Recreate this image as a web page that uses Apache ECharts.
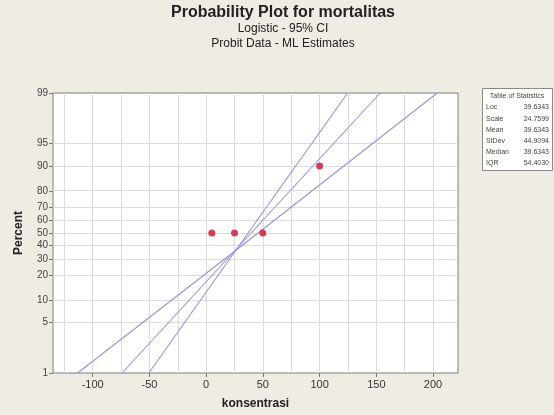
<!DOCTYPE html>
<html><head><meta charset="utf-8">
<script src="https://cdn.jsdelivr.net/npm/echarts@6/dist/echarts.min.js"></script>
<style>html,body{margin:0;padding:0;background:#efece4}#c{width:554px;height:415px}</style>
</head><body><div id="c"></div>
<script>
// ---- data ----
const xTicks = [-100, -50, 0, 50, 100, 150, 200];
const xGrid = [-125, -100, -75, -50, -25, 0, 25, 50, 75, 100, 125, 150, 175, 200];
const pTicks = [1, 5, 10, 20, 30, 40, 50, 60, 70, 80, 90, 95, 99];
const obsX = [5, 25, 50, 100];
const obsP = [50, 50, 50, 90];
const fitX = [-74.1, 153.4];
const fitP = [1, 99];
const lowerX = [-113.3, 26, 124.7];
const lowerP = [1, 36, 99];
const upperX = [-50.5, 26, 203.7];
const upperP = [1, 36, 99];
const statNames = ['Loc', 'Scale', 'Mean', 'StDev', 'Median', 'IQR'];
const statValues = ['39.6343', '24.7599', '39.6343', '44.9094', '39.6343', '54.4030'];

// logistic probability scale
const logit = p => Math.log(p / (100 - p));
const pair = (xs, ps) => xs.map((x, i) => [x, logit(ps[i])]);

const FONT = 'Liberation Sans';
const chart = echarts.init(document.getElementById('c'), null, {renderer: 'canvas'});

const tableX = 482, tableY = 88, tableW = 70, tableH = 82;
const tableTexts = [{
  type: 'text', x: tableX + tableW / 2, y: tableY + 5,
  style: {text: 'Table of Statistics', font: '7px ' + FONT, fill: '#444', textAlign: 'center'}
}];
statNames.forEach((n, i) => {
  tableTexts.push({type: 'text', x: tableX + 4, y: tableY + 16 + i * 11.2,
    style: {text: n, font: '7px ' + FONT, fill: '#444'}});
  tableTexts.push({type: 'text', x: tableX + tableW - 3, y: tableY + 16 + i * 11.2,
    style: {text: statValues[i], font: '7px ' + FONT, fill: '#444', textAlign: 'right'}});
});

chart.setOption({
  animation: false,
  backgroundColor: '#efece4',
  grid: {left: 53, top: 93, right: 96, bottom: 41, show: true, backgroundColor: '#ffffff',
         borderColor: '#7d7d7d', borderWidth: 1},
  xAxis: {
    type: 'value', min: -135, max: 222,
    name: 'konsentrasi', nameLocation: 'middle', nameGap: 25,
    nameTextStyle: {fontFamily: FONT, fontWeight: 'bold', fontSize: 12, color: '#222'},
    axisLine: {show: false, onZero: false}, splitLine: {show: false},
    axisTick: {show: true, length: 4, lineStyle: {color: '#777'}, customValues: xTicks},
    axisLabel: {customValues: xTicks, fontFamily: FONT, fontSize: 11, color: '#333', margin: 6}
  },
  yAxis: {
    type: 'value', min: logit(1), max: logit(99),
    name: 'Percent', nameLocation: 'middle', nameGap: 28, nameRotate: 90,
    nameTextStyle: {fontFamily: FONT, fontWeight: 'bold', fontSize: 12, color: '#222'},
    axisLine: {show: false, onZero: false}, splitLine: {show: false},
    axisTick: {show: true, length: 4, lineStyle: {color: '#777'}, customValues: pTicks.map(logit)},
    axisLabel: {customValues: pTicks.map(logit), fontFamily: FONT, fontSize: 10, color: '#444', margin: 5,
      formatter: v => String(Math.round(100 / (1 + Math.exp(-v))))}
  },
  graphic: [
    {type: 'text', x: 283, y: 5,
     style: {text: 'Probability Plot for mortalitas', font: 'bold 16px ' + FONT, fill: '#222', textAlign: 'center'}},
    {type: 'text', x: 283, y: 23,
     style: {text: 'Logistic - 95% CI', font: '12px ' + FONT, fill: '#222', textAlign: 'center'}},
    {type: 'text', x: 283, y: 38,
     style: {text: 'Probit Data - ML Estimates', font: '12px ' + FONT, fill: '#222', textAlign: 'center'}},
    {type: 'rect', shape: {x: tableX + 0.5, y: tableY + 0.5, width: tableW, height: tableH},
     style: {fill: '#ffffff', stroke: '#8a8a8a', lineWidth: 1}},
    ...tableTexts
  ],
  series: [
    {type: 'line', data: [], silent: true, z: 1,
     markLine: {silent: true, symbol: 'none', z: 1, label: {show: false},
       lineStyle: {color: '#dcdcdc', type: 'solid', width: 1},
       data: [...xGrid.map(v => ({xAxis: v})), ...pTicks.map(p => ({yAxis: logit(p)}))]}},
    {type: 'line', data: pair(lowerX, lowerP), showSymbol: false, silent: true, z: 3,
     lineStyle: {color: '#9494dc', width: 1.1}},
    {type: 'line', data: pair(upperX, upperP), showSymbol: false, silent: true, z: 3,
     lineStyle: {color: '#9494dc', width: 1.1}},
    {type: 'line', data: pair(fitX, fitP), showSymbol: false, silent: true, z: 3,
     lineStyle: {color: '#9494dc', width: 1.1}},
    {type: 'scatter', data: pair(obsX, obsP), symbolSize: 7, z: 4,
     itemStyle: {color: '#c8102e'}}
  ]
});
</script></body></html>
